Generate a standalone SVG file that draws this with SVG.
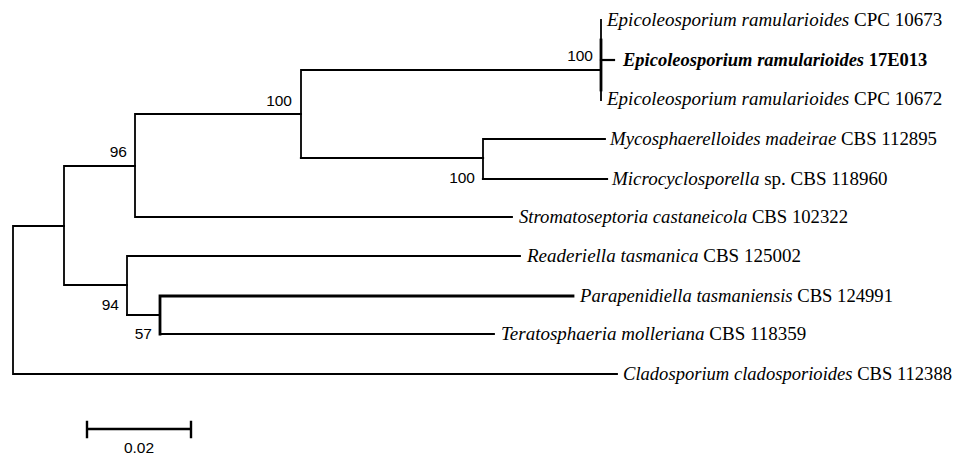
<svg xmlns="http://www.w3.org/2000/svg" width="965" height="455" viewBox="0 0 965 455">
<style>
.br{stroke:#000;stroke-width:1.8;fill:none;stroke-linecap:square}
.thick{stroke-width:2.8}
.tx{font-family:"Liberation Serif","Times New Roman",serif;font-size:19px;fill:#000}
.it{font-style:italic}
.bs{font-family:"Liberation Sans",Arial,sans-serif;font-size:15.5px;fill:#000;text-anchor:end}
.sc{font-family:"Liberation Sans",Arial,sans-serif;font-size:15.5px;fill:#000;text-anchor:middle}
</style>
<rect width="965" height="455" fill="#fff"/>
<g id="connectors">
<path class="br" d="M13 226V374H617M13 226H64"/>
<path class="br" d="M64 166V285M64 166H135M64 285H127"/>
<path class="br" d="M135 114V217H512M135 114H301"/>
<path class="br" d="M301 70V158M301 70H600"/>
<path class="br" d="M301 158H483" style="stroke-width:2.2"/>
<path class="br" d="M483 139V179M483 139H605"/>
<path class="br" d="M483 179H607" style="stroke-width:2.2"/>
<path class="br" d="M601 20V100"/>
<path class="br thick" d="M601 40V90"/>
<path class="br" d="M601 60H614" style="stroke-width:2.2"/>
<path class="br" d="M127 256V315M127 256H520"/>
<path class="br" d="M127 315H160"/>
<path class="br thick" d="M160 296V334M160 296H573"/>
<path class="br" d="M160 334H494"/>
</g>
<g id="n1"><text class="tx" x="607" y="26"><tspan class="it">Epicoleosporium ramularioides</tspan> CPC 10673</text></g>
<g id="n2"><text class="tx" x="623" y="66" font-weight="bold" style="font-size:18.5px"><tspan class="it">Epicoleosporium ramularioides</tspan> 17E013</text></g>
<g id="n3"><text class="tx" x="607" y="105"><tspan class="it">Epicoleosporium ramularioides</tspan> CPC 10672</text></g>
<g id="n4"><text class="tx" x="610" y="145" textLength="327" lengthAdjust="spacingAndGlyphs"><tspan class="it">Mycosphaerelloides madeirae</tspan> CBS 112895</text></g>
<g id="n5"><text class="tx" x="612" y="185"><tspan class="it">Microcyclosporella</tspan> sp. CBS 118960</text></g>
<g id="n6"><text class="tx" x="519" y="223" textLength="329" lengthAdjust="spacingAndGlyphs"><tspan class="it">Stromatoseptoria castaneicola</tspan> CBS 102322</text></g>
<g id="n7"><text class="tx" x="527" y="262"><tspan class="it">Readeriella tasmanica</tspan> CBS 125002</text></g>
<g id="n8"><text class="tx" x="580" y="302" textLength="313" lengthAdjust="spacingAndGlyphs"><tspan class="it">Parapenidiella tasmaniensis</tspan> CBS 124991</text></g>
<g id="n9"><text class="tx" x="501" y="340"><tspan class="it">Teratosphaeria molleriana</tspan> CBS 118359</text></g>
<g id="n10"><text class="tx" x="623" y="380" textLength="329" lengthAdjust="spacingAndGlyphs"><tspan class="it">Cladosporium cladosporioides</tspan> CBS 112388</text></g>
<g id="support">
<text class="bs" x="593" y="61">100</text>
<text class="bs" x="292" y="106">100</text>
<text class="bs" x="127" y="157">96</text>
<text class="bs" x="475" y="183">100</text>
<text class="bs" x="119" y="310">94</text>
<text class="bs" x="152" y="339">57</text>
</g>
<g id="scale">
<path class="br" d="M87 429H191M87 422V437M191 422V437" style="stroke-width:2.4"/>
<text class="sc" x="139" y="453">0.02</text>
</g>
</svg>
